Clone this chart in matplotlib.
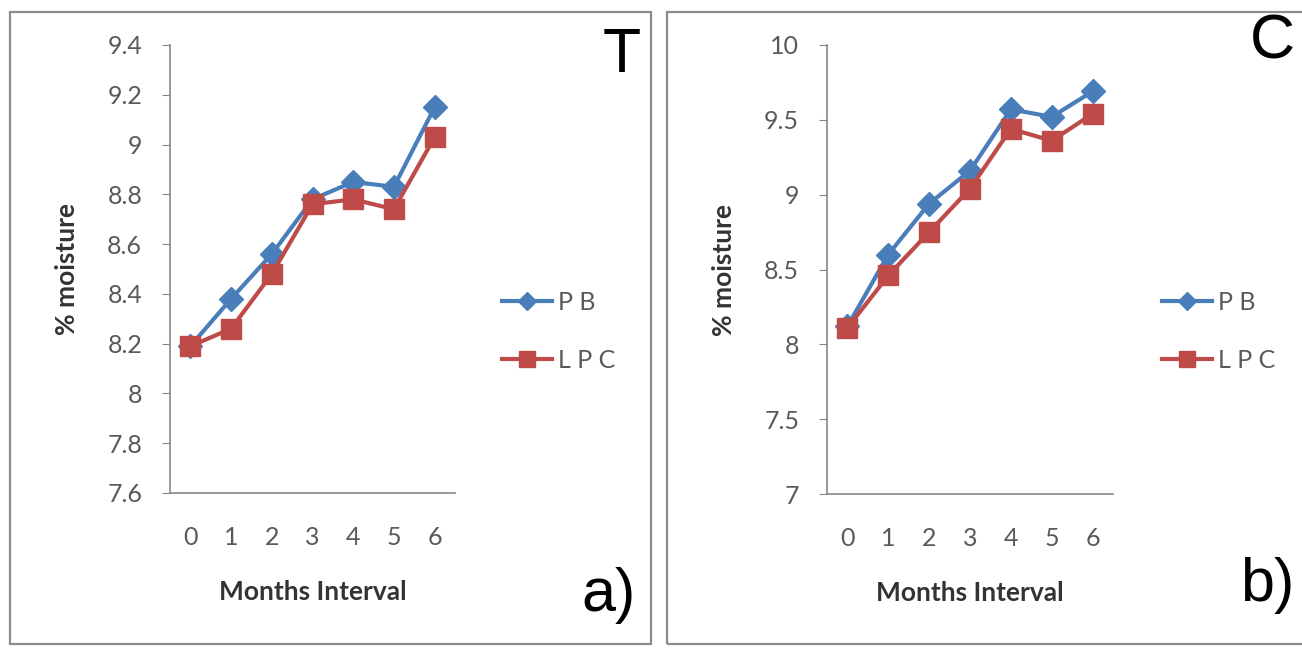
import matplotlib
matplotlib.use("Agg")
import matplotlib.pyplot as plt
from matplotlib.patches import Rectangle

# data
months = [0, 1, 2, 3, 4, 5, 6]
pb_t = [8.19, 8.38, 8.56, 8.78, 8.85, 8.83, 9.15]
lpc_t = [8.19, 8.26, 8.48, 8.76, 8.78, 8.74, 9.03]
pb_c = [8.12, 8.60, 8.94, 9.16, 9.57, 9.52, 9.69]
lpc_c = [8.11, 8.46, 8.75, 9.04, 9.44, 9.36, 9.54]

yticks_t = [7.6, 7.8, 8.0, 8.2, 8.4, 8.6, 8.8, 9.0, 9.2, 9.4]
yticks_c = [7.0, 7.5, 8.0, 8.5, 9.0, 9.5, 10.0]

BLUE = "#4A7EBB"
RED = "#BE4B48"
GRAY = "#868686"
TXT = "#595959"

W, H = 1302, 648
fig = plt.figure(figsize=(W / 100, H / 100), dpi=100)
plt.rcParams['font.family'] = ['Lato', 'DejaVu Sans']


def px(x0, y0, x1, y1):
    # pixel box (top-left origin) -> figure fraction rect
    return [x0 / W, 1 - y1 / H, (x1 - x0) / W, (y1 - y0) / H]


def panel(rect, pb, lpc, yticks, leg_xy, corner, corner_xy, tag, tag_xy):
    ax = fig.add_axes(rect)
    ax.plot(months, pb, color=BLUE, lw=3, marker="D", ms=12, label="P B")
    ax.plot(months, lpc, color=RED, lw=3, marker="s", ms=15, label="L P C")
    ax.set_xlim(-0.5, 6.5)
    ax.set_ylim(yticks[0], yticks[-1])
    ax.set_yticks(yticks)
    ax.set_yticklabels([f"{v:g}" for v in yticks])
    ax.set_xticks(months)
    for s in ["top", "right"]:
        ax.spines[s].set_visible(False)
    for s in ["left", "bottom"]:
        ax.spines[s].set_color(GRAY)
        ax.spines[s].set_linewidth(1.2)
    ax.tick_params(axis="y", length=6, color=GRAY, labelsize=18,
                   labelcolor=TXT, pad=14)
    ax.tick_params(axis="x", length=0, labelsize=18, labelcolor=TXT, pad=24)
    ax.set_xlabel("Months Interval", fontsize=19, fontweight="bold",
                  color="#333333", labelpad=22)
    ax.set_ylabel("% moisture", fontsize=19, fontweight="bold",
                  color="#333333", labelpad=20)
    ax.legend(loc="center left", bbox_to_anchor=leg_xy,
              bbox_transform=fig.transFigure, frameon=False, fontsize=18,
              handlelength=2.0, labelspacing=1.4, handletextpad=0.25,
              markerscale=0.75, labelcolor=TXT)
    fig.text(corner_xy[0] / W, 1 - corner_xy[1] / H, corner, fontsize=45,
             family="Liberation Sans", ha="center", va="center")
    fig.text(tag_xy[0] / W, 1 - tag_xy[1] / H, tag, fontsize=44,
             family="Liberation Sans", ha="center", va="center")
    return ax


# panel frames
fig.add_artist(Rectangle((10 / W, 1 - 644 / H), 641 / W, 632 / H,
                         transform=fig.transFigure, fill=False,
                         ec="#8C8C8C", lw=1.6))
fig.add_artist(Rectangle((667 / W, 1 - 644 / H), 660 / W, 632 / H,
                         transform=fig.transFigure, fill=False,
                         ec="#8C8C8C", lw=1.6))

panel(px(170, 45, 455, 493), pb_t, lpc_t, yticks_t,
      (479 / W, 1 - 331 / H), "T", (622, 55), "a)", (608, 595))
panel(px(827, 45, 1113, 494), pb_c, lpc_c, yticks_c,
      (1139 / W, 1 - 331 / H), "C", (1272, 42), "b)", (1267, 585))

fig.savefig("out.png", dpi=100)
